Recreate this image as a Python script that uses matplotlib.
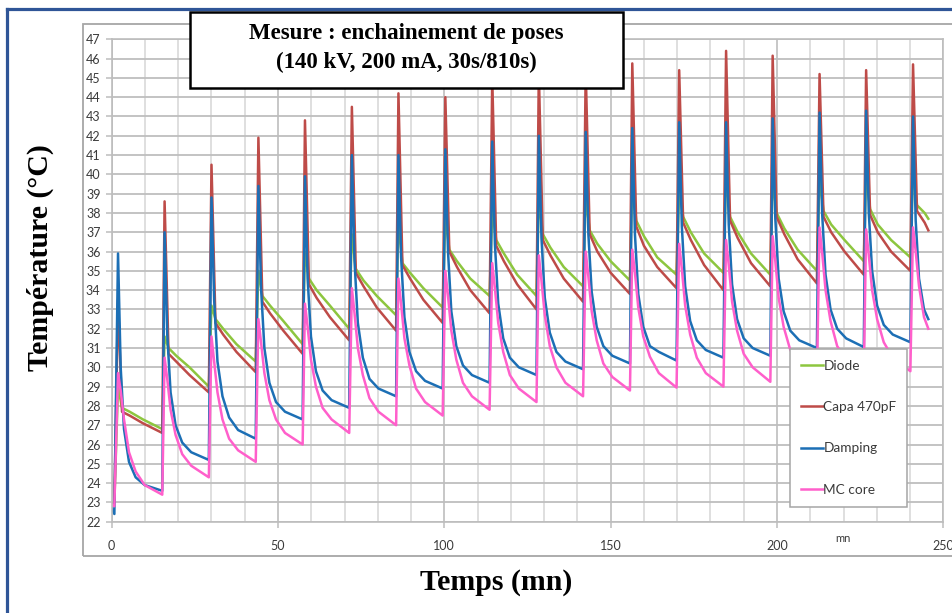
import numpy as np
import matplotlib
matplotlib.use("Agg")
import matplotlib.pyplot as plt
from matplotlib.patches import Rectangle
from matplotlib.lines import Line2D

# ---------------- data ----------------
PULSE_T = [1.4, 15.4, 29.5, 43.6, 57.6, 71.7, 85.7, 99.8, 113.9, 127.9,
           142.0, 156.0, 170.1, 184.2, 198.2, 212.3, 226.3, 240.4]   # minutes
START_T = [0.0, 0.8]
END_T = 245.5

# sample offsets (minutes after each pulse start)
OFF_FAST = [0.5, 1.3, 2.3, 3.8, 5.8, 8.5, 13.8]   # Damping, MC core
OFF_SLOW = [0.5, 1.7, 4.0, 8.0, 13.8]             # Diode, Capa 470pF

diode_start = [23.0, 23.0]
diode_cycles = [
    [29.0, 27.9, 27.7, 27.3, 26.8],
    [31.6, 31.0, 30.6, 30.0, 29.0],
    [33.2, 32.5, 32.0, 31.2, 30.3],
    [35.0, 33.7, 33.2, 32.4, 31.2],
    [36.0, 34.6, 34.0, 33.2, 32.0],
    [36.9, 35.1, 34.5, 33.7, 32.7],
    [37.5, 35.4, 34.9, 34.1, 33.1],
    [37.8, 36.1, 35.5, 34.6, 33.7],
    [38.1, 36.6, 35.9, 34.8, 33.7],
    [38.7, 36.9, 36.2, 35.2, 34.2],
    [38.8, 37.1, 36.4, 35.5, 34.5],
    [39.6, 37.6, 36.8, 35.7, 34.8],
    [39.2, 37.8, 37.0, 35.9, 34.9],
    [39.9, 37.8, 37.0, 35.9, 34.8],
    [39.7, 38.0, 37.2, 36.1, 35.0],
    [39.8, 38.1, 37.4, 36.6, 35.5],
    [40.0, 38.2, 37.4, 36.6, 35.7],
    [40.2, 38.4, 38.0],
]
diode_end = 37.7

capa_start = [22.9, 23.0]
capa_cycles = [
    [33.5, 27.7, 27.5, 27.1, 26.6],
    [38.6, 30.7, 30.3, 29.6, 28.7],
    [40.5, 32.3, 31.7, 30.8, 29.75],
    [41.9, 33.4, 32.8, 31.9, 30.7],
    [42.8, 34.3, 33.6, 32.6, 31.4],
    [43.5, 34.9, 34.2, 33.1, 31.9],
    [44.2, 35.3, 34.6, 33.5, 32.3],
    [44.0, 36.0, 35.2, 34.0, 32.8],
    [45.0, 36.3, 35.5, 34.3, 33.0],
    [45.3, 36.6, 35.8, 34.6, 33.4],
    [45.4, 36.9, 36.0, 34.9, 33.8],
    [45.75, 37.3, 36.3, 35.2, 34.1],
    [45.4, 37.5, 36.6, 35.3, 34.0],
    [46.4, 37.6, 36.7, 35.4, 34.2],
    [46.15, 37.8, 36.9, 35.6, 34.35],
    [45.2, 37.8, 37.0, 36.0, 34.8],
    [45.4, 37.9, 37.0, 36.0, 35.0],
    [45.7, 38.1, 37.5],
]
capa_end = 37.1

damping_start = [22.7, 22.4]
damping_cycles = [
    [35.9, 30.0, 26.8, 25.1, 24.3, 23.9, 23.6],
    [37.0, 31.7, 28.7, 27.0, 26.1, 25.6, 25.2],
    [38.8, 33.5, 30.3, 28.5, 27.4, 26.75, 26.3],
    [39.4, 34.1, 31.0, 29.2, 28.2, 27.7, 27.3],
    [39.9, 34.6, 31.6, 29.8, 28.8, 28.3, 27.9],
    [41.0, 35.5, 32.3, 30.5, 29.4, 28.9, 28.5],
    [41.0, 35.7, 32.6, 30.8, 29.8, 29.3, 28.9],
    [41.3, 36.0, 32.9, 31.1, 30.1, 29.6, 29.2],
    [41.7, 36.4, 33.3, 31.5, 30.5, 30.0, 29.6],
    [42.0, 36.7, 33.6, 31.8, 30.8, 30.3, 29.9],
    [42.2, 36.9, 33.9, 32.1, 31.1, 30.6, 30.2],
    [42.4, 36.9, 33.8, 32.1, 31.1, 30.8, 30.35],
    [42.7, 37.3, 34.2, 32.4, 31.4, 30.9, 30.5],
    [42.7, 37.4, 34.3, 32.5, 31.5, 31.0, 30.6],
    [42.9, 37.7, 34.6, 32.9, 31.9, 31.4, 31.0],
    [43.2, 37.9, 34.8, 33.0, 32.0, 31.5, 31.05],
    [43.3, 38.0, 35.0, 33.2, 32.2, 31.7, 31.3],
    [43.0, 37.6, 34.6, 33.0],
]
damping_end = 32.5

mccore_start = [22.9, 22.8]
mccore_cycles = [
    [29.7, 28.8, 27.3, 25.6, 24.6, 23.9, 23.4],
    [30.5, 29.4, 27.8, 26.5, 25.5, 24.9, 24.3],
    [31.6, 30.3, 28.7, 27.3, 26.3, 25.7, 25.1],
    [32.5, 31.3, 29.7, 28.3, 27.3, 26.6, 26.0],
    [33.3, 32.1, 30.4, 29.0, 27.9, 27.3, 26.6],
    [34.1, 32.8, 31.0, 29.6, 28.4, 27.7, 27.0],
    [34.6, 33.3, 31.5, 30.1, 28.9, 28.2, 27.5],
    [35.0, 33.7, 31.9, 30.4, 29.2, 28.5, 27.8],
    [35.4, 34.1, 32.3, 30.8, 29.6, 28.9, 28.2],
    [35.8, 34.5, 32.7, 31.1, 30.0, 29.2, 28.5],
    [36.0, 34.7, 32.9, 31.4, 30.2, 29.5, 28.8],
    [36.1, 34.9, 33.1, 31.6, 30.55, 29.7, 28.95],
    [36.4, 35.1, 33.2, 31.7, 30.5, 29.7, 29.0],
    [36.6, 35.3, 33.4, 31.9, 30.7, 30.0, 29.25],
    [36.8, 35.5, 33.6, 32.1, 30.9, 30.1, 29.4],
    [37.25, 35.9, 34.0, 32.4, 31.1, 30.4, 29.6],
    [37.15, 35.8, 34.0, 32.5, 31.3, 30.5, 29.8],
    [37.25, 36.0, 34.2, 32.6],
]
mccore_end = 32.0

SERIES_NAMES = ["Diode", "Capa 470pF", "Damping", "MC core"]
SERIES_COLORS = ["#8DC63F", "#BE4B48", "#1C6FB5", "#FF5FCB"]

Y_TICKS = list(range(22, 48))
X_TICKS = [0, 50, 100, 150, 200, 250]


def build(start_vals, cycles, offsets, end_val):
    t = list(START_T)
    v = list(start_vals)
    for t0, vals in zip(PULSE_T, cycles):
        for o, val in zip(offsets, vals):
            t.append(t0 + o)
            v.append(val)
    t.append(END_T)
    v.append(end_val)
    return np.array(t), np.array(v)


series = [
    build(diode_start, diode_cycles, OFF_SLOW, diode_end),
    build(capa_start, capa_cycles, OFF_SLOW, capa_end),
    build(damping_start, damping_cycles, OFF_FAST, damping_end),
    build(mccore_start, mccore_cycles, OFF_FAST, mccore_end),
]

# ---------------- figure ----------------
W, H = 953, 613
fig = plt.figure(figsize=(W / 100, H / 100), dpi=100)
fig.patch.set_facecolor("white")


def fx(px):
    return px / W


def fy(py):
    return 1 - py / H


# chart-area border (gray)
fig.add_artist(Rectangle((fx(83), fy(556)), fx(1000) - fx(83), fy(24) - fy(556),
                         transform=fig.transFigure, fill=False,
                         edgecolor="#A6A6A6", linewidth=1.3, zorder=-1))

ax = fig.add_axes([fx(111.7), fy(521.7), fx(943.3) - fx(111.7), fy(39.3) - fy(521.7)])
for (t, v), name, col in zip(series, SERIES_NAMES, SERIES_COLORS):
    ax.plot(t, v, color=col, linewidth=1.8, label=name, solid_joinstyle="round")

ax.set_xlim(0, 250)
ax.set_ylim(22, 47)
ax.set_xticks(X_TICKS)
ax.set_xticks(np.arange(0, 251, 10), minor=True)
ax.set_yticks(Y_TICKS)
ax.grid(which="major", axis="x", color="#BDBDBD", linewidth=1.2)
ax.grid(which="minor", axis="x", color="#D6D6D6", linewidth=1.1)
ax.grid(which="major", axis="y", color="#BEBEBE", linewidth=1.3)
ax.set_axisbelow(True)
for s in ax.spines.values():
    s.set_color("#BDBDBD")
    s.set_linewidth(1.2)
ax.tick_params(axis="both", which="both", color="#BDBDBD", length=4, width=1.1,
               labelcolor="#3A3A3A")
ax.tick_params(axis="x", which="minor", length=0)
ax.tick_params(axis="y", pad=4, labelsize=9)
ax.tick_params(axis="x", pad=9, labelsize=9)
for lab in ax.get_xticklabels() + ax.get_yticklabels():
    lab.set_family(["Lato", "DejaVu Sans"])

leg = ax.legend(loc="upper left", bbox_to_anchor=(fx(790), fy(349)),
                bbox_transform=fig.transFigure, borderaxespad=0,
                frameon=True, fancybox=False, framealpha=1,
                edgecolor="#A6A6A6", labelspacing=2.15, handlelength=1.6,
                handletextpad=0.05, borderpad=0.8,
                prop={"family": ["Lato", "DejaVu Sans"], "size": 9.8})
leg.get_frame().set_linewidth(1.1)
for txt in leg.get_texts():
    txt.set_color("#3A3A3A")

fig.text(fx(843), fy(538), "mn", fontsize=8, color="#3A3A3A",
         family=["Lato", "DejaVu Sans"], ha="center", va="center")

# axis titles
fig.text(fx(40), fy(258), "Température (°C)", rotation=90, fontsize=21.5,
         fontweight="bold", family=["Liberation Serif", "DejaVu Serif"],
         ha="center", va="center")
fig.text(fx(496), fy(583), "Temps (mn)", fontsize=21.5, fontweight="bold",
         family=["Liberation Serif", "DejaVu Serif"], ha="center", va="center")

# title box
fig.add_artist(Rectangle((fx(190), fy(88)), fx(623) - fx(190), fy(12) - fy(88),
                         transform=fig.transFigure, facecolor="white",
                         edgecolor="black", linewidth=1.8, zorder=5))
fig.text(fx(406.5), fy(33), "Mesure : enchainement de poses", fontsize=16.5,
         fontweight="bold", family=["Liberation Serif", "DejaVu Serif"],
         ha="center", va="center", zorder=6)
fig.text(fx(406.5), fy(62), "(140 kV, 200 mA, 30s/810s)", fontsize=16.5,
         fontweight="bold", family=["Liberation Serif", "DejaVu Serif"],
         ha="center", va="center", zorder=6)

# outer blue frame
frame_col = "#2F5597"
fig.add_artist(Line2D([fx(7.5), fx(7.5)], [fy(9), fy(640)], transform=fig.transFigure,
                      color=frame_col, linewidth=2.3, zorder=7))
fig.add_artist(Line2D([fx(6.5), fx(960)], [fy(9), fy(9)], transform=fig.transFigure,
                      color=frame_col, linewidth=2.3, zorder=7))

fig.savefig("out.png", dpi=100)
